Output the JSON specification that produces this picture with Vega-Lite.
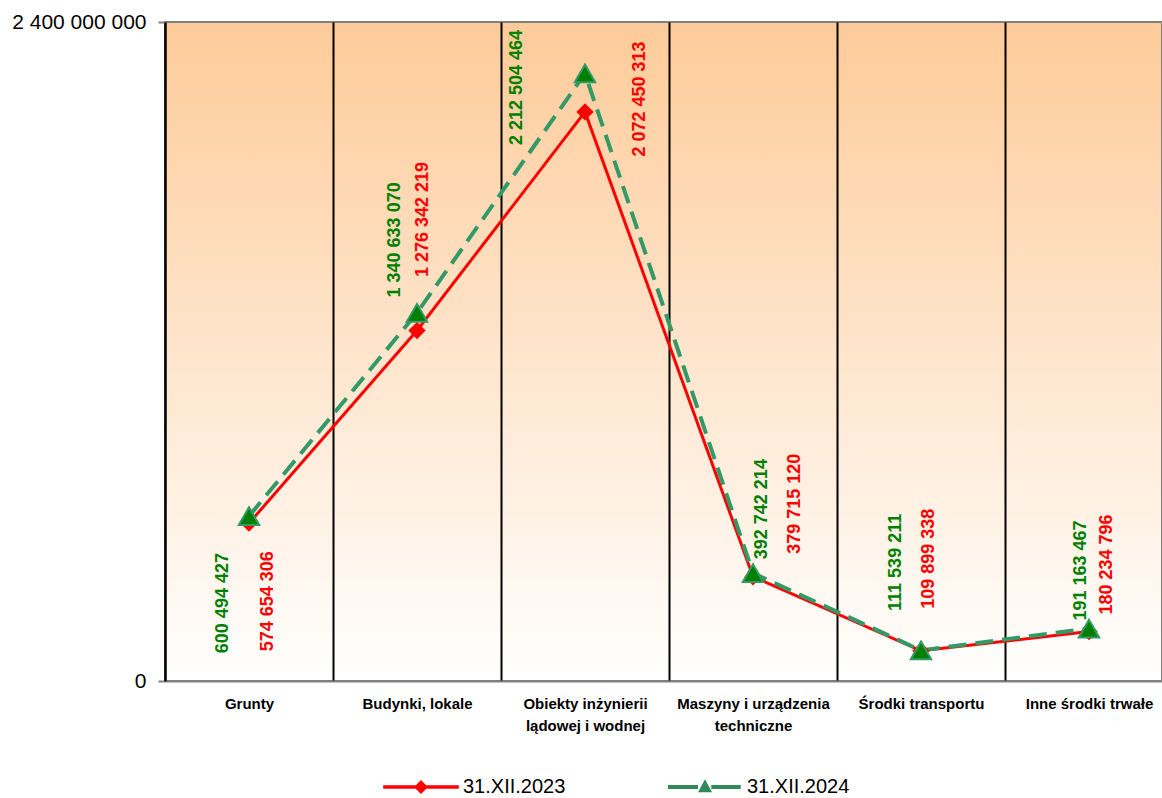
{
  "$schema": "https://vega.github.io/schema/vega-lite/v6.json",
  "width": 997,
  "height": 659,
  "autosize": {"type": "none"},
  "padding": {"left": 165, "top": 22, "right": 0, "bottom": 117},
  "background": "white",
  "config": {
    "locale": {"number": {"decimal": ",", "thousands": " ", "grouping": [3], "currency": ["", " zł"]}},
    "view": {
      "fill": {"gradient": "linear", "x1": 0, "y1": 0, "x2": 0, "y2": 1, "stops": [{"offset": 0, "color": "#FECB99"}, {"offset": 1, "color": "#FFFFFF"}]},
      "stroke": "#808080",
      "strokeWidth": 2
    }
  },
  "data": {
    "values": [
      {"kategoria": "Grunty", "data": "31.XII.2023", "wartosc": 574654306},
      {"kategoria": "Grunty", "data": "31.XII.2024", "wartosc": 600494427},
      {"kategoria": "Budynki, lokale", "data": "31.XII.2023", "wartosc": 1276342219},
      {"kategoria": "Budynki, lokale", "data": "31.XII.2024", "wartosc": 1340633070},
      {"kategoria": "Obiekty inżynierii lądowej i wodnej", "data": "31.XII.2023", "wartosc": 2072450313},
      {"kategoria": "Obiekty inżynierii lądowej i wodnej", "data": "31.XII.2024", "wartosc": 2212504464},
      {"kategoria": "Maszyny i urządzenia techniczne", "data": "31.XII.2023", "wartosc": 379715120},
      {"kategoria": "Maszyny i urządzenia techniczne", "data": "31.XII.2024", "wartosc": 392742214},
      {"kategoria": "Środki transportu", "data": "31.XII.2023", "wartosc": 109899338},
      {"kategoria": "Środki transportu", "data": "31.XII.2024", "wartosc": 111539211},
      {"kategoria": "Inne środki trwałe", "data": "31.XII.2023", "wartosc": 180234796},
      {"kategoria": "Inne środki trwałe", "data": "31.XII.2024", "wartosc": 191163467}
    ]
  },
  "encoding": {
    "x": {
      "field": "kategoria", "type": "nominal", "sort": null,
      "scale": {"range": [0, 1008], "paddingInner": 0, "paddingOuter": 0},
      "axis": {
        "title": null, "tickBand": "extent", "ticks": false, "grid": true,
        "gridColor": "#000000", "gridWidth": 2,
        "domainColor": "#808080", "domainWidth": 2,
        "labelAngle": 0, "labelFont": "Liberation Sans", "labelFontSize": 15, "labelFontWeight": "bold",
        "labelColor": "#000000", "labelPadding": 15, "labelLineHeight": 22, "labelLimit": 0, "labelBaseline": "top",
        "labelExpr": "datum.value == 'Obiekty inżynierii lądowej i wodnej' ? ['Obiekty inżynierii', 'lądowej i wodnej'] : datum.value == 'Maszyny i urządzenia techniczne' ? ['Maszyny i urządzenia', 'techniczne'] : datum.value"
      }
    },
    "y": {
      "field": "wartosc", "type": "quantitative",
      "scale": {"domain": [0, 2400000000], "nice": false},
      "axis": {
        "title": null, "values": [0, 2400000000], "format": ",d", "grid": false,
        "labelFont": "Liberation Sans", "labelFontSize": 21, "labelColor": "#000000",
        "tickColor": "#808080", "tickSize": 7, "tickWidth": 2, "labelPadding": 12,
        "domainColor": "#000000", "domainWidth": 2
      }
    }
  },
  "layer": [
    {
      "transform": [{"filter": "datum.data == '31.XII.2023'"}],
      "mark": {"type": "line", "strokeWidth": 3},
      "encoding": {
        "color": {
          "field": "data", "type": "nominal",
          "scale": {"domain": ["31.XII.2023", "31.XII.2024"], "range": ["#FF0000", "#339966"]},
          "legend": {
            "orient": "none", "legendX": 246, "legendY": 755, "direction": "horizontal", "title": null,
            "symbolSize": 196, "labelOffset": 32, "columnPadding": 101, "padding": 0,
            "labelFontSize": 20, "labelFont": "Liberation Sans", "labelColor": "#000000",
            "encode": {"symbols": {"update": {
              "shape": {"signal": "datum.value == '31.XII.2023' ? 'M-5.4,-0.25H5.4V0.25H-5.4Z M0,-1L1,0L0,1L-1,0Z' : 'M-5.3,-0.3H-1.0V0.3H-5.3Z M0.9,-0.3H5.1V0.3H0.9Z M0,-1.1L1,0.75L-1,0.75Z'"},
              "fill": {"signal": "datum.value == '31.XII.2023' ? '#FF0000' : '#2E8B57'"},
              "strokeWidth": {"value": 0},
              "opacity": {"value": 1}
            }}}
          }
        }
      }
    },
    {
      "transform": [{"filter": "datum.data == '31.XII.2024'"}],
      "mark": {"type": "line", "strokeWidth": 4, "strokeDash": [18, 9]},
      "encoding": {
        "color": {
          "field": "data", "type": "nominal",
          "scale": {"domain": ["31.XII.2023", "31.XII.2024"], "range": ["#FF0000", "#339966"]}
        }
      }
    },
    {
      "transform": [{"filter": "datum.data == '31.XII.2023'"}],
      "mark": {"type": "point", "shape": "diamond", "filled": true, "size": 300, "fill": "#FF0000", "strokeWidth": 0, "opacity": 1}
    },
    {
      "transform": [{"filter": "datum.data == '31.XII.2024'"}],
      "mark": {"type": "point", "shape": "triangle-up", "filled": true, "size": 420, "fill": "#008000", "stroke": "#339966", "strokeWidth": 2, "opacity": 1}
    },
    {
      "transform": [{"filter": "datum.kategoria == 'Grunty' && datum.data == '31.XII.2024'"}],
      "mark": {"type": "text", "angle": 270, "align": "center", "baseline": "middle", "dx": -87, "dy": -26, "fontSize": 18, "fontWeight": "bold", "font": "Liberation Sans", "color": "#008000"},
      "encoding": {"text": {"field": "wartosc", "type": "quantitative", "format": ",d"}}
    },
    {
      "transform": [{"filter": "datum.kategoria == 'Grunty' && datum.data == '31.XII.2023'"}],
      "mark": {"type": "text", "angle": 270, "align": "center", "baseline": "middle", "dx": -78, "dy": 19, "fontSize": 18, "fontWeight": "bold", "font": "Liberation Sans", "color": "#FF0000"},
      "encoding": {"text": {"field": "wartosc", "type": "quantitative", "format": ",d"}}
    },
    {
      "transform": [{"filter": "datum.kategoria == 'Budynki, lokale' && datum.data == '31.XII.2024'"}],
      "mark": {"type": "text", "angle": 270, "align": "center", "baseline": "middle", "dx": 73, "dy": -22, "fontSize": 18, "fontWeight": "bold", "font": "Liberation Sans", "color": "#008000"},
      "encoding": {"text": {"field": "wartosc", "type": "quantitative", "format": ",d"}}
    },
    {
      "transform": [{"filter": "datum.kategoria == 'Budynki, lokale' && datum.data == '31.XII.2023'"}],
      "mark": {"type": "text", "angle": 270, "align": "center", "baseline": "middle", "dx": 111, "dy": 6, "fontSize": 18, "fontWeight": "bold", "font": "Liberation Sans", "color": "#FF0000"},
      "encoding": {"text": {"field": "wartosc", "type": "quantitative", "format": ",d"}}
    },
    {
      "transform": [{"filter": "datum.kategoria == 'Obiekty inżynierii lądowej i wodnej' && datum.data == '31.XII.2024'"}],
      "mark": {"type": "text", "angle": 270, "align": "center", "baseline": "middle", "dx": -14, "dy": -68, "fontSize": 18, "fontWeight": "bold", "font": "Liberation Sans", "color": "#008000"},
      "encoding": {"text": {"field": "wartosc", "type": "quantitative", "format": ",d"}}
    },
    {
      "transform": [{"filter": "datum.kategoria == 'Obiekty inżynierii lądowej i wodnej' && datum.data == '31.XII.2023'"}],
      "mark": {"type": "text", "angle": 270, "align": "center", "baseline": "middle", "dx": 13, "dy": 55, "fontSize": 18, "fontWeight": "bold", "font": "Liberation Sans", "color": "#FF0000"},
      "encoding": {"text": {"field": "wartosc", "type": "quantitative", "format": ",d"}}
    },
    {
      "transform": [{"filter": "datum.kategoria == 'Maszyny i urządzenia techniczne' && datum.data == '31.XII.2024'"}],
      "mark": {"type": "text", "angle": 270, "align": "center", "baseline": "middle", "dx": 64, "dy": 9, "fontSize": 18, "fontWeight": "bold", "font": "Liberation Sans", "color": "#008000"},
      "encoding": {"text": {"field": "wartosc", "type": "quantitative", "format": ",d"}}
    },
    {
      "transform": [{"filter": "datum.kategoria == 'Maszyny i urządzenia techniczne' && datum.data == '31.XII.2023'"}],
      "mark": {"type": "text", "angle": 270, "align": "center", "baseline": "middle", "dx": 73, "dy": 42, "fontSize": 18, "fontWeight": "bold", "font": "Liberation Sans", "color": "#FF0000"},
      "encoding": {"text": {"field": "wartosc", "type": "quantitative", "format": ",d"}}
    },
    {
      "transform": [{"filter": "datum.kategoria == 'Środki transportu' && datum.data == '31.XII.2024'"}],
      "mark": {"type": "text", "angle": 270, "align": "center", "baseline": "middle", "dx": 88, "dy": -25, "fontSize": 18, "fontWeight": "bold", "font": "Liberation Sans", "color": "#008000"},
      "encoding": {"text": {"field": "wartosc", "type": "quantitative", "format": ",d"}}
    },
    {
      "transform": [{"filter": "datum.kategoria == 'Środki transportu' && datum.data == '31.XII.2023'"}],
      "mark": {"type": "text", "angle": 270, "align": "center", "baseline": "middle", "dx": 92, "dy": 8, "fontSize": 18, "fontWeight": "bold", "font": "Liberation Sans", "color": "#FF0000"},
      "encoding": {"text": {"field": "wartosc", "type": "quantitative", "format": ",d"}}
    },
    {
      "transform": [{"filter": "datum.kategoria == 'Inne środki trwałe' && datum.data == '31.XII.2024'"}],
      "mark": {"type": "text", "angle": 270, "align": "center", "baseline": "middle", "dx": 58, "dy": -8, "fontSize": 18, "fontWeight": "bold", "font": "Liberation Sans", "color": "#008000"},
      "encoding": {"text": {"field": "wartosc", "type": "quantitative", "format": ",d"}}
    },
    {
      "transform": [{"filter": "datum.kategoria == 'Inne środki trwałe' && datum.data == '31.XII.2023'"}],
      "mark": {"type": "text", "angle": 270, "align": "center", "baseline": "middle", "dx": 67, "dy": 18, "fontSize": 18, "fontWeight": "bold", "font": "Liberation Sans", "color": "#FF0000"},
      "encoding": {"text": {"field": "wartosc", "type": "quantitative", "format": ",d"}}
    }
  ]
}
